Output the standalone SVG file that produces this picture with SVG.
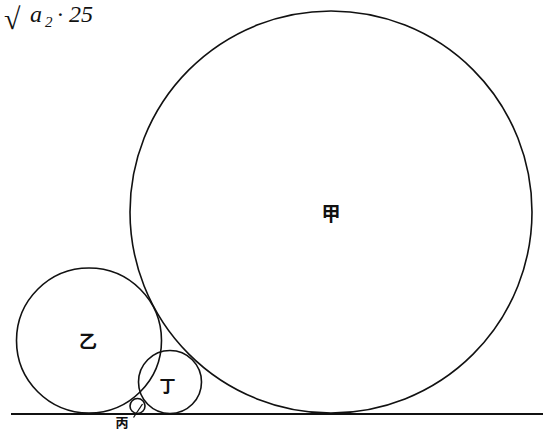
<svg xmlns="http://www.w3.org/2000/svg" width="548" height="430" viewBox="0 0 548 430">
<style>
.c{fill:none;stroke:#111;stroke-width:1.6}
.cjk{font-family:"Noto Sans CJK SC","Noto Sans CJK JP",sans-serif;fill:#111;text-anchor:middle;dominant-baseline:central;font-weight:bold}
.f{font-family:"Liberation Serif",serif;font-style:italic;fill:#111}
</style>
<rect width="548" height="430" fill="#fff"/>
<g id="formula">
<text class="f" x="4" y="29" font-size="30" font-style="normal">√</text>
<text class="f" x="30" y="22" font-size="24">a</text>
<text class="f" x="45" y="27" font-size="15">2</text>
<text class="f" x="57" y="22" font-size="24" font-style="normal">·</text>
<text class="f" x="69" y="22" font-size="24">25</text>
</g>
<g id="connectors">
<line x1="11" y1="414" x2="543" y2="414" stroke="#111" stroke-width="2.2"/>
<line x1="142.5" y1="404" x2="133.5" y2="417.5" stroke="#111" stroke-width="1.3"/>
</g>
<g id="jia">
<circle class="c" cx="331" cy="212" r="201"/>
<text class="cjk" x="331" y="212" font-size="19">甲</text>
</g>
<g id="yi">
<circle class="c" cx="89" cy="340.5" r="72.5"/>
<text class="cjk" x="88" y="340" font-size="18">乙</text>
</g>
<g id="ding">
<circle class="c" cx="170" cy="382" r="31.5"/>
<text class="cjk" x="167.5" y="385" font-size="16">丁</text>
</g>
<g id="bing">
<circle class="c" cx="137.5" cy="406" r="7.5"/>
<text class="cjk" x="122" y="421" font-size="13">丙</text>
</g>
</svg>
